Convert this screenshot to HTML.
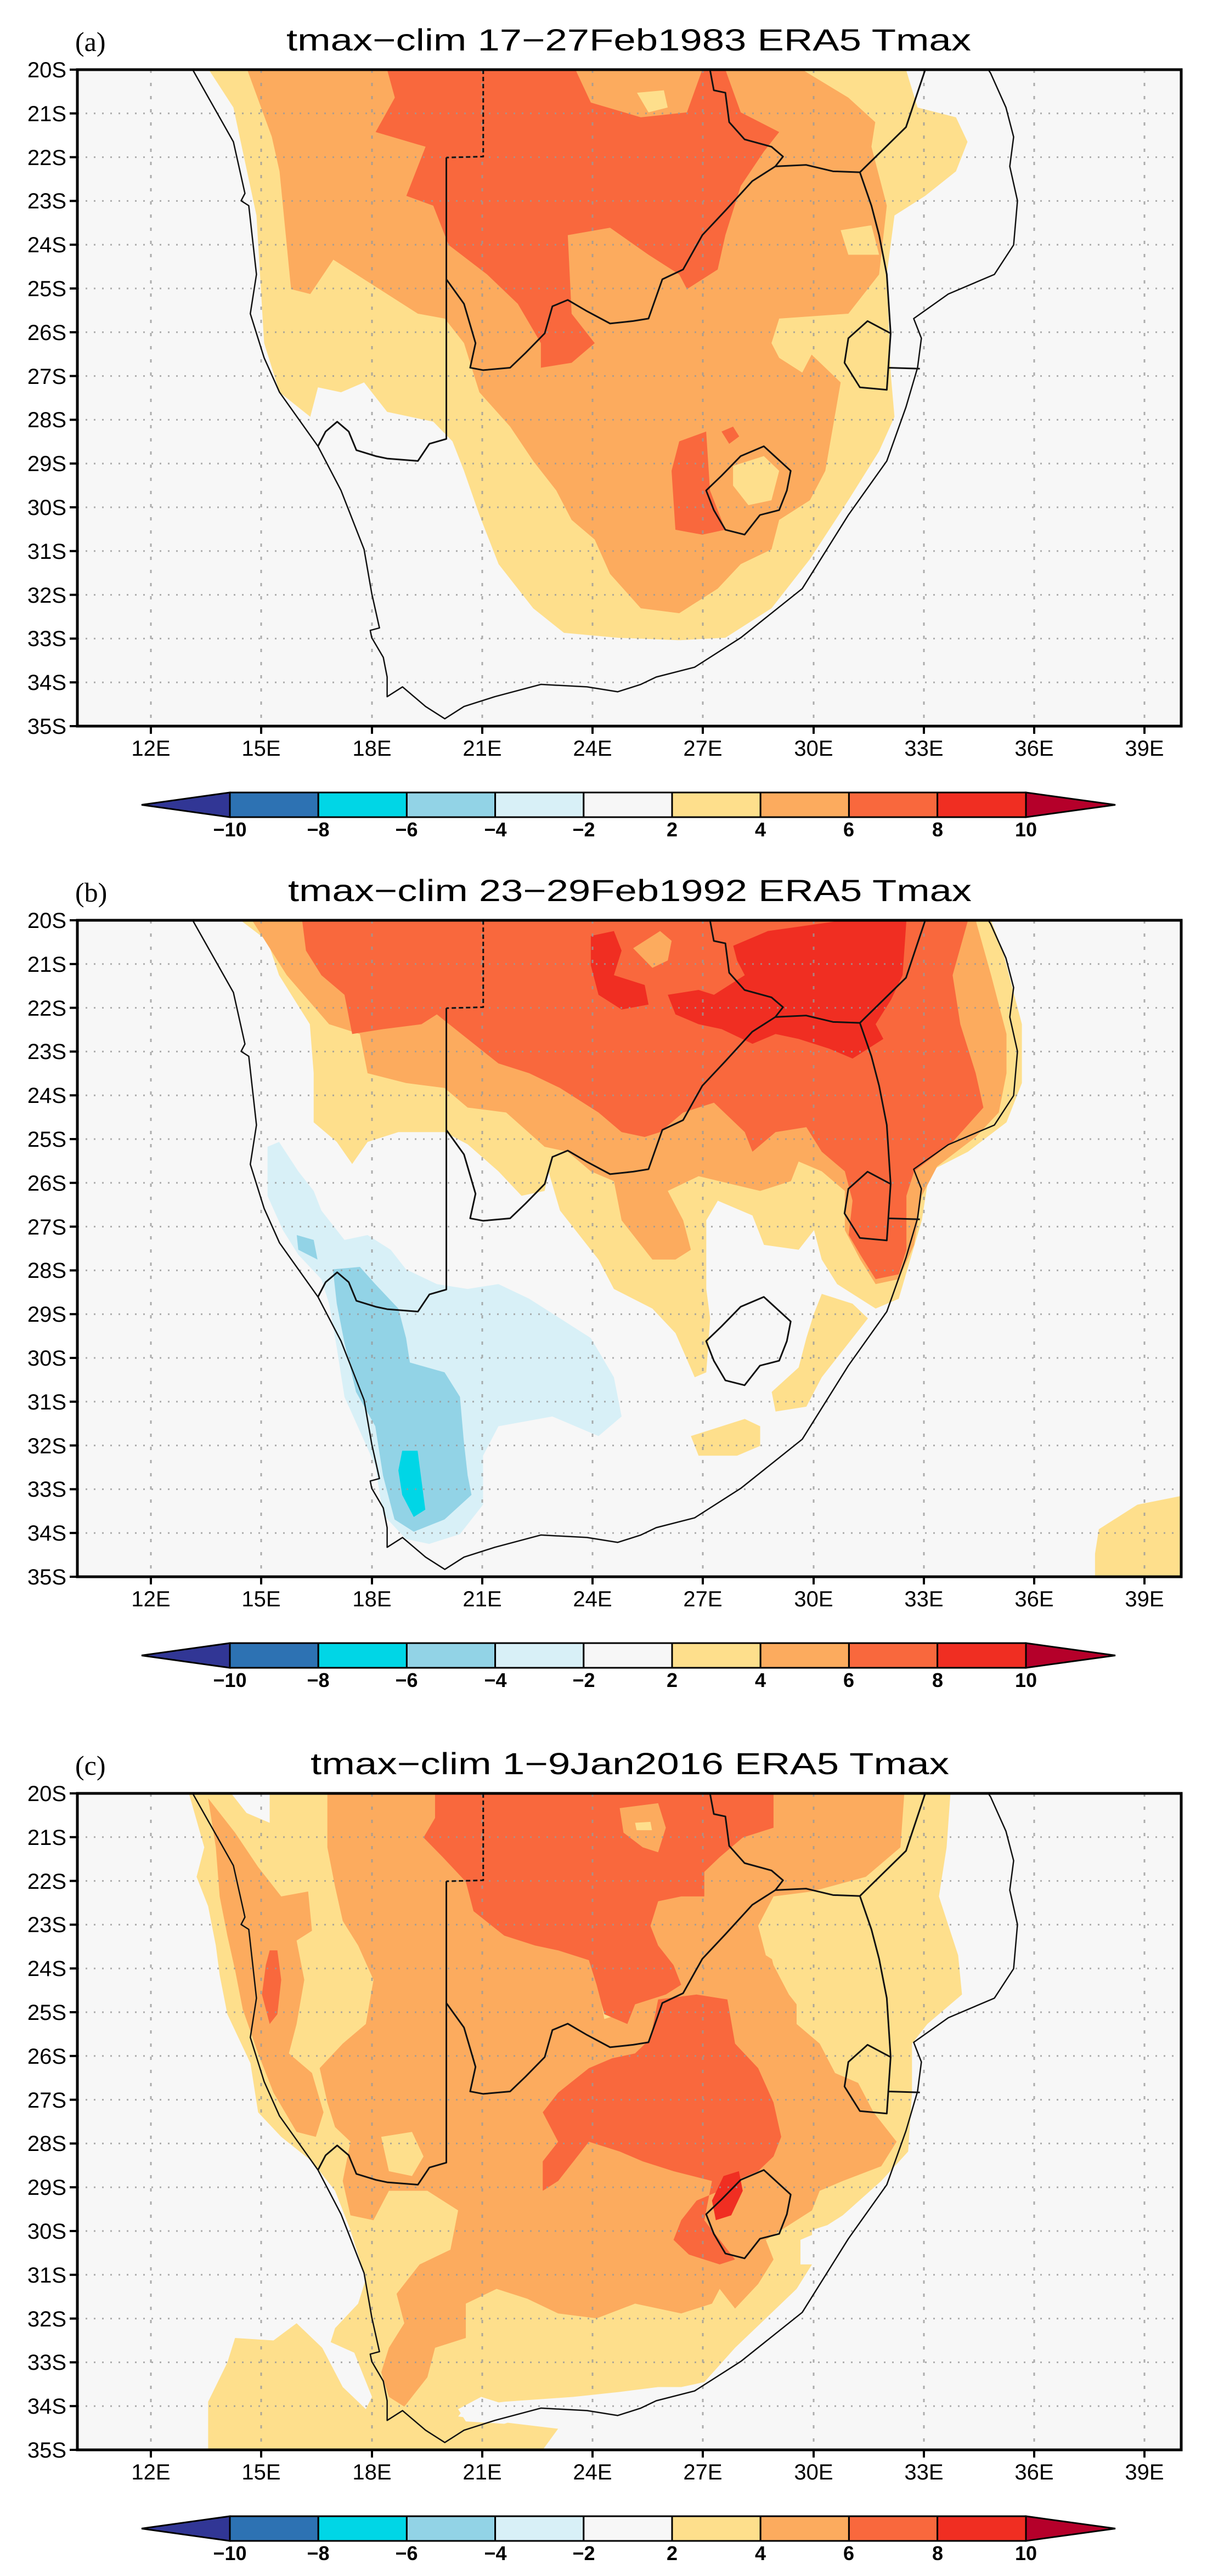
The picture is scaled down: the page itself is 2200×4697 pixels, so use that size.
<!DOCTYPE html>
<html><head><meta charset="utf-8"><style>
html,body{margin:0;padding:0;background:#fff}
svg{display:block}
text{font-family:"Liberation Sans",sans-serif}
</style></head><body>
<svg width="2200" height="4697" viewBox="0 0 2200 4697" xmlns="http://www.w3.org/2000/svg">
<defs>
<clipPath id="cp"><rect x="141" y="0" width="2012" height="1197"/></clipPath>
<g id="grid" stroke="#9a9a9a" stroke-width="3" stroke-dasharray="3 12" opacity="0.8">
<line x1="141" x2="2153" y1="79.8" y2="79.8"/><line x1="141" x2="2153" y1="159.6" y2="159.6"/><line x1="141" x2="2153" y1="239.4" y2="239.4"/><line x1="141" x2="2153" y1="319.2" y2="319.2"/><line x1="141" x2="2153" y1="399" y2="399"/><line x1="141" x2="2153" y1="478.8" y2="478.8"/><line x1="141" x2="2153" y1="558.6" y2="558.6"/><line x1="141" x2="2153" y1="638.4" y2="638.4"/><line x1="141" x2="2153" y1="718.2" y2="718.2"/><line x1="141" x2="2153" y1="798" y2="798"/><line x1="141" x2="2153" y1="877.8" y2="877.8"/><line x1="141" x2="2153" y1="957.6" y2="957.6"/><line x1="141" x2="2153" y1="1037.4" y2="1037.4"/><line x1="141" x2="2153" y1="1117.2" y2="1117.2"/>
<g stroke-dasharray="6 18"><line y1="0" y2="1197" x1="275" x2="275"/><line y1="0" y2="1197" x1="476" x2="476"/><line y1="0" y2="1197" x1="678" x2="678"/><line y1="0" y2="1197" x1="879" x2="879"/><line y1="0" y2="1197" x1="1080" x2="1080"/><line y1="0" y2="1197" x1="1281" x2="1281"/><line y1="0" y2="1197" x1="1483" x2="1483"/><line y1="0" y2="1197" x1="1684" x2="1684"/><line y1="0" y2="1197" x1="1885" x2="1885"/><line y1="0" y2="1197" x1="2086" x2="2086"/></g>
</g>
<g id="geo" transform="translate(141,0) scale(1.4011,0.8953) translate(-97,-143)" fill="none" stroke="#111" stroke-linejoin="round">
<path vector-effect="non-scaling-stroke" stroke-width="2.5" d="M247,143 L300,290 L315,395 L310,410 L320,420 L330,560 L322,640 L340,730 L360,800 L410,910 L440,1000 L470,1120 L480,1210 L490,1280 L478,1285 L480,1300 L495,1340 L500,1380 L500,1420 L520,1400 L550,1440 L575,1465 L600,1440 L640,1420 L700,1395 L760,1400 L800,1410 L830,1395 L850,1380 L900,1360 L960,1300 L1040,1200 L1100,1050 L1150,940 L1175,830 L1190,750 L1195,690 L1185,650 L1230,600 L1290,560 L1315,500 L1320,410 L1310,340 L1315,280 L1305,220 L1285,150 L1282,143"/>
<path vector-effect="non-scaling-stroke" stroke-width="3" stroke-dasharray="8 5" d="M625,143 L625,320 L577,322"/>
<path vector-effect="non-scaling-stroke" stroke-width="3" d="M577,322 L577,895 L555,905 L540,940 L500,935 L485,930 L460,918 L450,880 L435,860 L420,880 L410,910
M577,570 L600,620 L615,700 L608,750 L625,755 L660,750 L680,720 L705,680 L715,625 L735,612 L760,635 L790,660 L820,655 L840,650 L858,570 L885,550 L910,480 L940,430 L975,370 L1005,340 L1045,337 L1080,350 L1115,352
M1005,340 L1015,320 L1000,300 L965,285 L945,250 L940,190 L925,185 L920,143
M1115,352 L1175,260 L1200,143
M1115,352 L1130,420 L1140,480 L1150,560 L1155,680 L1150,795
M1155,680 L1125,655 L1100,690 L1095,740 L1115,790 L1150,795 L1152,750 L1193,752
M990,910 L1025,960 L1020,1000 L1010,1040 L985,1050 L965,1090 L940,1080 L925,1040 L915,1000 L935,970 L960,930 Z"/>
</g>
<g id="axes">
<g stroke="#000" stroke-width="4"><line x1="127" x2="141" y1="0" y2="0"/><line x1="127" x2="141" y1="79.8" y2="79.8"/><line x1="127" x2="141" y1="159.6" y2="159.6"/><line x1="127" x2="141" y1="239.4" y2="239.4"/><line x1="127" x2="141" y1="319.2" y2="319.2"/><line x1="127" x2="141" y1="399" y2="399"/><line x1="127" x2="141" y1="478.8" y2="478.8"/><line x1="127" x2="141" y1="558.6" y2="558.6"/><line x1="127" x2="141" y1="638.4" y2="638.4"/><line x1="127" x2="141" y1="718.2" y2="718.2"/><line x1="127" x2="141" y1="798" y2="798"/><line x1="127" x2="141" y1="877.8" y2="877.8"/><line x1="127" x2="141" y1="957.6" y2="957.6"/><line x1="127" x2="141" y1="1037.4" y2="1037.4"/><line x1="127" x2="141" y1="1117.2" y2="1117.2"/><line x1="127" x2="141" y1="1197" y2="1197"/>
<line y1="1197" y2="1211" x1="275" x2="275"/><line y1="1197" y2="1211" x1="476" x2="476"/><line y1="1197" y2="1211" x1="678" x2="678"/><line y1="1197" y2="1211" x1="879" x2="879"/><line y1="1197" y2="1211" x1="1080" x2="1080"/><line y1="1197" y2="1211" x1="1281" x2="1281"/><line y1="1197" y2="1211" x1="1483" x2="1483"/><line y1="1197" y2="1211" x1="1684" x2="1684"/><line y1="1197" y2="1211" x1="1885" x2="1885"/><line y1="1197" y2="1211" x1="2086" x2="2086"/></g>
<rect x="141" y="0" width="2012" height="1197" fill="none" stroke="#000" stroke-width="5"/>
</g>
<g id="cbar" stroke="#000" stroke-width="3">
<polygon points="419,0 258,22.5 419,45" fill="#313695"/>
<polygon points="1870,0 2033,22.5 1870,45" fill="#b5002a"/>
<rect x="419" y="0" width="161.2" height="45" fill="#2d72b3"/>
<rect x="580.2" y="0" width="161.2" height="45" fill="#00d6e6"/>
<rect x="741.4" y="0" width="161.2" height="45" fill="#92d3e6"/>
<rect x="902.6" y="0" width="161.2" height="45" fill="#d8f0f7"/>
<rect x="1063.8" y="0" width="161.2" height="45" fill="#f7f7f7"/>
<rect x="1225" y="0" width="161.2" height="45" fill="#fedf8c"/>
<rect x="1386.2" y="0" width="161.2" height="45" fill="#fcab5e"/>
<rect x="1547.4" y="0" width="161.2" height="45" fill="#f9683d"/>
<rect x="1708.6" y="0" width="161.4" height="45" fill="#f02e22"/>
</g>
</defs>

<!-- ================= PANEL A ================= -->
<text x="137" y="93" font-family="Liberation Serif,serif" font-size="50" style="font-family:'Liberation Serif',serif">(a)</text>
<text x="522" y="92" font-size="56" textLength="1248" lengthAdjust="spacingAndGlyphs">tmax−clim 17−27Feb1983 ERA5 Tmax</text>
<rect x="141" y="127" width="2012" height="1197" fill="#f7f7f7"/>
<g transform="translate(0,127)"><g clip-path="url(#cp)">
<g transform="translate(141,0) scale(1.4011,0.8953) translate(-97,-143)">
<polygon fill="#fedf8c" points="268,143 300,220 330,440 340,700 360,800 400,850 410,790 440,800 470,780 500,840 560,860 585,900 600,960 620,1050 645,1150 690,1240 730,1290 800,1300 880,1305 940,1300 1000,1240 1050,1140 1100,1020 1140,920 1160,850 1155,760 1150,560 1160,440 1200,400 1240,350 1255,290 1240,240 1190,220 1175,143"/>
<polygon fill="#fcab5e" points="318,143 350,280 360,350 375,590 400,600 430,530 480,580 540,640 575,650 600,700 620,800 660,870 690,940 720,1000 740,1060 770,1100 790,1170 830,1240 880,1250 930,1200 960,1150 1000,1120 1010,1060 1050,1020 1070,960 1080,870 1090,780 1050,720 1000,700 1010,650 1100,640 1140,560 1150,420 1130,300 1135,250 1100,200 1040,143"/>
<polygon fill="#fedf8c" points="950,950 990,930 1010,960 1000,1020 970,1030 950,990"/>
<polygon fill="#fedf8c" points="1000,700 1040,680 1060,700 1040,760 1010,730"/>
<polygon fill="#fedf8c" points="1090,470 1130,460 1140,520 1100,520"/>
<polygon fill="#fedf8c" points="825,190 860,185 865,220 840,230"/>
<polygon fill="#f9683d" points="500,143 745,143 765,210 830,240 890,230 910,143 940,143 960,230 1010,270 990,310 960,380 940,480 930,550 890,590 880,560 840,520 790,465 735,480 740,640 770,700 740,740 700,750 700,700 670,620 630,560 580,500 560,420 525,400 550,300 485,270 510,200"/>
<polygon fill="#f9683d" points="880,900 915,880 920,1000 940,1080 910,1090 875,1080 870,960"/>
<polygon fill="#f9683d" points="935,880 950,870 958,890 945,905"/>
</g></g>
<use href="#grid"/>
<g clip-path="url(#cp)"><use href="#geo"/></g>
<use href="#axes"/>
<g font-size="40" text-anchor="end"><text x="121" y="14">20S</text><text x="121" y="94">21S</text><text x="121" y="174">22S</text><text x="121" y="253">23S</text><text x="121" y="333">24S</text><text x="121" y="413">25S</text><text x="121" y="493">26S</text><text x="121" y="573">27S</text><text x="121" y="652">28S</text><text x="121" y="732">29S</text><text x="121" y="812">30S</text><text x="121" y="892">31S</text><text x="121" y="972">32S</text><text x="121" y="1051">33S</text><text x="121" y="1131">34S</text><text x="121" y="1211">35S</text></g>
<g font-size="40" text-anchor="middle"><text x="275" y="1251">12E</text><text x="476" y="1251">15E</text><text x="678" y="1251">18E</text><text x="879" y="1251">21E</text><text x="1080" y="1251">24E</text><text x="1281" y="1251">27E</text><text x="1483" y="1251">30E</text><text x="1684" y="1251">33E</text><text x="1885" y="1251">36E</text><text x="2086" y="1251">39E</text></g>
</g>
<g transform="translate(0,1445)"><use href="#cbar"/>
<g font-size="36" font-weight="bold" text-anchor="middle"><text x="419" y="80">−10</text><text x="580" y="80">−8</text><text x="741" y="80">−6</text><text x="903" y="80">−4</text><text x="1064" y="80">−2</text><text x="1225" y="80">2</text><text x="1386" y="80">4</text><text x="1547" y="80">6</text><text x="1709" y="80">8</text><text x="1870" y="80">10</text></g></g>

<!-- ================= PANEL B ================= -->
<text x="137" y="1644" font-size="50" style="font-family:'Liberation Serif',serif">(b)</text>
<text x="525" y="1643" font-size="56" textLength="1246" lengthAdjust="spacingAndGlyphs">tmax−clim 23−29Feb1992 ERA5 Tmax</text>
<rect x="141" y="1678" width="2012" height="1197" fill="#f7f7f7"/>
<g transform="translate(0,1678)"><g clip-path="url(#cp)">
<g transform="translate(141,0) scale(1.4031,0.894) translate(-93,-88)">
<polygon fill="#fedf8c" points="305,88 340,130 355,200 395,300 400,400 400,500 430,540 450,585 470,540 510,520 570,520 600,545 640,600 670,650 700,640 705,600 720,680 750,740 770,780 790,840 840,880 870,930 895,1020 910,1010 915,900 910,840 910,700 925,660 970,690 985,750 1030,760 1050,720 1060,780 1080,830 1100,850 1130,880 1160,860 1190,700 1200,600 1250,560 1300,500 1320,420 1320,300 1295,150 1280,88"/>
<polygon fill="#fedf8c" points="1060,850 1100,870 1120,900 1090,960 1060,1020 1040,1080 1000,1090 995,1050 1030,1000 1040,940 1050,890"/>
<polygon fill="#fedf8c" points="890,1140 930,1120 960,1105 980,1120 980,1160 950,1180 900,1180"/>
<polygon fill="#fedf8c" points="1420,1330 1470,1280 1527,1262 1527,1427 1415,1427 1415,1380"/>
<polygon fill="#fcab5e" points="320,88 365,200 420,300 460,320 470,400 520,420 570,430 600,470 650,480 700,550 730,560 760,600 790,620 800,700 840,780 870,780 890,760 880,700 860,640 900,610 980,640 1020,620 1030,580 1060,600 1090,640 1090,720 1110,780 1130,830 1160,820 1180,750 1190,650 1210,590 1260,530 1290,480 1300,400 1300,320 1280,200 1260,88"/>
<polygon fill="#f9683d" points="385,88 390,150 410,200 440,240 450,320 490,310 540,300 560,280 600,330 640,380 680,400 720,430 770,480 800,520 830,530 850,520 880,480 920,460 960,520 970,560 1000,520 1040,510 1060,560 1090,600 1100,660 1095,730 1110,770 1130,820 1160,810 1170,760 1170,650 1180,600 1230,540 1270,470 1260,400 1240,300 1230,200 1250,88"/>
<polygon fill="#fcab5e" points="815,145 850,110 865,130 860,170 840,185"/>
<polygon fill="#f02e22" points="760,120 790,110 800,150 790,200 830,220 835,260 800,270 770,240 760,180"/>
<polygon fill="#f02e22" points="945,140 990,110 1080,90 1170,88 1165,200 1150,250 1130,300 1140,330 1100,370 1070,350 1030,330 1000,320 970,340 930,310 900,300 870,280 860,240 900,230 920,240 960,200 950,170"/>
<polygon fill="#d8f0f7" points="340,550 355,540 380,600 400,640 410,680 440,740 470,730 500,760 520,800 560,830 600,840 640,830 680,860 720,900 760,940 790,1020 800,1100 770,1140 710,1100 640,1120 620,1180 620,1280 590,1340 550,1360 520,1350 490,1300 480,1200 440,1060 430,960 420,870 410,820 380,770 360,720 340,650"/>
<polygon fill="#92d3e6" points="378,730 400,740 405,780 380,760"/>
<polygon fill="#92d3e6" points="425,800 460,795 480,830 510,880 520,940 525,990 570,1010 590,1060 595,1150 600,1220 605,1260 570,1310 530,1335 505,1310 490,1220 480,1120 455,1050 440,950 430,870"/>
<polygon fill="#00d6e6" points="515,1170 535,1170 540,1230 545,1290 530,1305 515,1260 510,1210"/>
</g></g>
<use href="#grid"/>
<g clip-path="url(#cp)"><use href="#geo"/></g>
<use href="#axes"/>
<g font-size="40" text-anchor="end"><text x="121" y="14">20S</text><text x="121" y="94">21S</text><text x="121" y="174">22S</text><text x="121" y="253">23S</text><text x="121" y="333">24S</text><text x="121" y="413">25S</text><text x="121" y="493">26S</text><text x="121" y="573">27S</text><text x="121" y="652">28S</text><text x="121" y="732">29S</text><text x="121" y="812">30S</text><text x="121" y="892">31S</text><text x="121" y="972">32S</text><text x="121" y="1051">33S</text><text x="121" y="1131">34S</text><text x="121" y="1211">35S</text></g>
<g font-size="40" text-anchor="middle"><text x="275" y="1251">12E</text><text x="476" y="1251">15E</text><text x="678" y="1251">18E</text><text x="879" y="1251">21E</text><text x="1080" y="1251">24E</text><text x="1281" y="1251">27E</text><text x="1483" y="1251">30E</text><text x="1684" y="1251">33E</text><text x="1885" y="1251">36E</text><text x="2086" y="1251">39E</text></g>
</g>
<g transform="translate(0,2996)"><use href="#cbar"/>
<g font-size="36" font-weight="bold" text-anchor="middle"><text x="419" y="80">−10</text><text x="580" y="80">−8</text><text x="741" y="80">−6</text><text x="903" y="80">−4</text><text x="1064" y="80">−2</text><text x="1225" y="80">2</text><text x="1386" y="80">4</text><text x="1547" y="80">6</text><text x="1709" y="80">8</text><text x="1870" y="80">10</text></g></g>

<!-- ================= PANEL C ================= -->
<text x="137" y="3236" font-size="50" style="font-family:'Liberation Serif',serif">(c)</text>
<text x="566" y="3235" font-size="56" textLength="1164" lengthAdjust="spacingAndGlyphs">tmax−clim 1−9Jan2016 ERA5 Tmax</text>
<rect x="141" y="3270" width="2012" height="1197" fill="#f7f7f7"/>
<g transform="translate(0,3270)"><g clip-path="url(#cp)">
<g transform="translate(141,0) scale(1.4021,0.8946) translate(-95,-90)">
<polygon fill="#fedf8c" points="240,90 400,90 1230,90 1225,200 1215,300 1240,420 1245,500 1200,560 1180,600 1180,700 1175,820 1140,880 1090,950 1070,970 1050,980 1050,1050 1030,1100 990,1160 950,1220 910,1290 880,1300 850,1300 800,1310 740,1320 650,1330 600,1340 590,1360 640,1370 720,1385 700,1428 265,1428 265,1330 290,1250 300,1200 350,1205 380,1170 420,1230 430,1180 460,1130 470,1080 450,980 430,900 400,840 360,790 330,740 320,640 290,540 280,460 275,400 265,320 250,260 260,200"/>
<polygon fill="#f7f7f7" points="295,90 345,90 345,150 315,130"/>
<polygon fill="#f7f7f7" points="405,1195 455,1230 478,1320 470,1345 440,1300"/>
<polygon fill="#f7f7f7" points="590,1345 620,1320 690,1355 650,1375 600,1370"/>
<polygon fill="#f7f7f7" points="760,1322 850,1302 880,1308 800,1330"/>
<polygon fill="#f7f7f7" points="1035,1000 1050,990 1050,1050 1035,1050"/>
<polygon fill="#fcab5e" points="265,100 300,170 330,240 360,300 395,290 400,370 380,390 390,470 380,560 370,620 400,660 415,740 405,790 380,780 350,700 330,620 310,530 300,450 290,380 280,300 275,200"/>
<polygon fill="#fcab5e" points="420,90 1170,90 1165,200 1120,260 1050,290 1000,300 980,360 990,420 1010,440 1030,500 1030,560 1060,600 1080,660 1110,680 1130,740 1160,800 1140,850 1090,880 1060,900 1050,940 1020,970 990,1000 1000,1040 980,1090 950,1140 940,1120 930,1100 920,1130 880,1150 820,1130 770,1160 720,1150 680,1120 640,1100 600,1130 600,1200 560,1220 550,1280 520,1340 500,1320 490,1270 500,1220 520,1170 510,1110 540,1050 580,1020 590,940 550,900 500,900 480,960 450,950 440,880 450,800 430,770 420,720 410,650 440,600 470,560 480,470 460,400 440,350 430,280 420,200"/>
<polygon fill="#fedf8c" points="490,790 530,780 545,830 530,870 500,860"/>
<polygon fill="#fedf8c" points="1000,330 1060,310 1080,360 1100,510 1110,580 1090,600 1050,560 1020,500 1000,440 990,380"/>
<polygon fill="#fedf8c" points="770,460 795,450 800,540 780,550"/>
<polygon fill="#f9683d" points="560,90 1000,90 1000,160 960,180 930,220 910,250 910,300 880,300 850,310 840,360 850,400 870,440 880,480 860,500 820,520 810,560 780,540 770,480 760,430 720,410 690,400 650,380 610,330 600,270 570,220 545,180 560,140"/>
<polygon fill="#fcab5e" points="800,120 850,110 860,160 850,210 830,200 805,170"/>
<polygon fill="#fedf8c" points="820,150 840,148 842,165 822,165"/>
<polygon fill="#f9683d" points="850,510 900,500 940,510 950,600 980,650 1000,720 1010,790 1000,830 980,860 950,880 930,900 900,920 880,960 870,1000 890,1030 930,1050 950,1040 930,1000 910,960 920,880 870,860 830,840 800,820 760,800 740,840 720,880 700,900 700,840 720,800 700,740 720,700 760,650 790,630 820,620 840,590"/>
<polygon fill="#f9683d" points="345,410 355,410 360,470 355,540 345,560 335,500 340,440"/>
<polygon fill="#f02e22" points="935,870 955,860 960,900 945,950 925,960 920,920"/>
</g></g>
<use href="#grid"/>
<g clip-path="url(#cp)"><use href="#geo"/></g>
<use href="#axes"/>
<g font-size="40" text-anchor="end"><text x="121" y="14">20S</text><text x="121" y="94">21S</text><text x="121" y="174">22S</text><text x="121" y="253">23S</text><text x="121" y="333">24S</text><text x="121" y="413">25S</text><text x="121" y="493">26S</text><text x="121" y="573">27S</text><text x="121" y="652">28S</text><text x="121" y="732">29S</text><text x="121" y="812">30S</text><text x="121" y="892">31S</text><text x="121" y="972">32S</text><text x="121" y="1051">33S</text><text x="121" y="1131">34S</text><text x="121" y="1211">35S</text></g>
<g font-size="40" text-anchor="middle"><text x="275" y="1251">12E</text><text x="476" y="1251">15E</text><text x="678" y="1251">18E</text><text x="879" y="1251">21E</text><text x="1080" y="1251">24E</text><text x="1281" y="1251">27E</text><text x="1483" y="1251">30E</text><text x="1684" y="1251">33E</text><text x="1885" y="1251">36E</text><text x="2086" y="1251">39E</text></g>
</g>
<g transform="translate(0,4588)"><use href="#cbar"/>
<g font-size="36" font-weight="bold" text-anchor="middle"><text x="419" y="80">−10</text><text x="580" y="80">−8</text><text x="741" y="80">−6</text><text x="903" y="80">−4</text><text x="1064" y="80">−2</text><text x="1225" y="80">2</text><text x="1386" y="80">4</text><text x="1547" y="80">6</text><text x="1709" y="80">8</text><text x="1870" y="80">10</text></g></g>
</svg>
</body></html>
